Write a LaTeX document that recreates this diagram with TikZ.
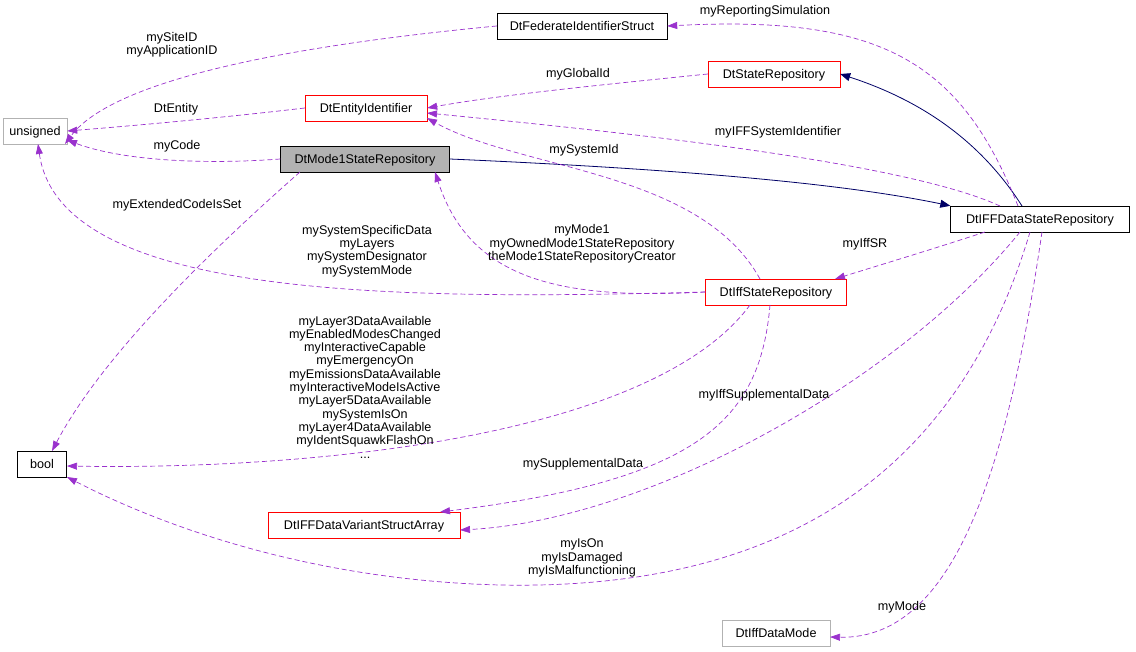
\documentclass[tikz,border=0pt]{standalone}
\usepackage{fontspec}
\setmainfont{Liberation Sans}
\usetikzlibrary{arrows.meta}
\definecolor{dp}{HTML}{9A32CD}
\begin{document}
\begin{tikzpicture}[x=1pt,y=-1pt,
  every node/.style={font=\fontsize{12.6}{13.3}\selectfont},
  box/.style={draw,minimum height=26pt,inner sep=0pt,anchor=center,text height=9pt,text depth=0pt},
  red/.style={box,draw=red},
  gray/.style={box,draw=black!30},
  dep/.style={draw=dp,line width=0.7pt,dash pattern=on 5pt off 3pt,-{Triangle[length=10pt,width=7pt,fill=dp]}},
  inh/.style={draw=blue!40!black,line width=0.8pt,-{Triangle[length=10pt,width=8pt,fill=blue!40!black]}},
  lbl/.style={align=center,inner sep=0pt}]
\useasboundingbox (0,0) rectangle (1136,652);
\node[box,minimum width=170pt] (fed) at (582,26) {DtFederateIdentifierStruct};
\node[red,minimum width=132pt] (sr) at (774,74) {DtStateRepository};
\node[gray,minimum width=64pt] (uns) at (35,131) {unsigned};
\node[red,minimum width=122pt] (eid) at (366,108) {DtEntityIdentifier};
\node[box,fill=black!30,minimum width=169pt] (m1) at (365,159) {DtMode1StateRepository};
\node[box,minimum width=179pt] (iffd) at (1040,219) {DtIFFDataStateRepository};
\node[red,minimum width=141pt] (iffs) at (776,292) {DtIffStateRepository};
\node[box,minimum width=49pt] (bool) at (42,464) {bool};
\node[red,minimum width=192pt] (var) at (364,525) {DtIFFDataVariantStructArray};
\node[gray,minimum width=108pt] (mode) at (776,633) {DtIffDataMode};

% inheritance
\draw[inh] (m1.east) .. controls (700,170) and (850,185) .. (iffd.north west);
\draw[inh] (1022,206) .. controls (980,140) and (920,100) .. (sr.east);

% dependencies
\draw[dep] (fed.west) .. controls (350,40) and (120,70) .. (65,144);
\node[lbl] at (172,45) {mySiteID\\myApplicationID};
\draw[dep] (1018,206) .. controls (960,60) and (880,15) .. (fed.east);
\node[lbl] at (765,11) {myReportingSimulation};
\draw[dep] (sr.west) .. controls (600,85) and (500,95) .. (eid.east);
\node[lbl] at (578,74) {myGlobalId};
\draw[dep] (eid.west) .. controls (220,118) and (130,126) .. (uns.east);
\node[lbl] at (176,109) {DtEntity};
\draw[dep] (m1.west) .. controls (200,165) and (120,160) .. (67,140);
\node[lbl] at (177,146) {myCode};
\draw[dep] (1000,206) .. controls (900,160) and (600,130) .. (427,113);
\node[lbl] at (778,132) {myIFFSystemIdentifier};
\draw[dep] (760,279) .. controls (700,170) and (520,170) .. (427,118);
\node[lbl] at (584,150) {mySystemId};
\draw[dep] (300,172) .. controls (200,260) and (100,360) .. (52,451);
\node[lbl] at (177,205) {myExtendedCodeIsSet};
\draw[dep] (iffs.west) .. controls (400,300) and (60,300) .. (38,144);
\node[lbl] at (367,251) {mySystemSpecificData\\myLayers\\mySystemDesignator\\mySystemMode};
\draw[dep] (iffs.west) .. controls (560,300) and (470,280) .. (435,172);
\node[lbl] at (582,244) {myMode1\\myOwnedMode1StateRepository\\theMode1StateRepositoryCreator};
\draw[dep] (985,232) .. controls (930,250) and (880,265) .. (835,279);
\node[lbl] at (865,244) {myIffSR};
\draw[dep] (750,305) .. controls (650,440) and (300,470) .. (67,466);
\node[lbl] at (365,387) {myLayer3DataAvailable\\myEnabledModesChanged\\myInteractiveCapable\\myEmergencyOn\\myEmissionsDataAvailable\\myInteractiveModeIsActive\\myLayer5DataAvailable\\mySystemIsOn\\myLayer4DataAvailable\\myIdentSquawkFlashOn\\...};
\draw[dep] (770,305) .. controls (760,420) and (700,480) .. (440,512);
\node[lbl] at (583,464) {mySupplementalData};
\draw[dep] (1020,232) .. controls (900,380) and (650,520) .. (460,530);
\node[lbl] at (764,395) {myIffSupplementalData};
\draw[dep] (1030,232) .. controls (950,500) and (750,590) .. (500,585) .. controls (300,580) and (150,520) .. (67,477);
\node[lbl] at (582,558) {myIsOn\\myIsDamaged\\myIsMalfunctioning};
\draw[dep] (1042,232) .. controls (1010,450) and (960,640) .. (830,637);
\node[lbl] at (902,607) {myMode};
\end{tikzpicture}
\end{document}
